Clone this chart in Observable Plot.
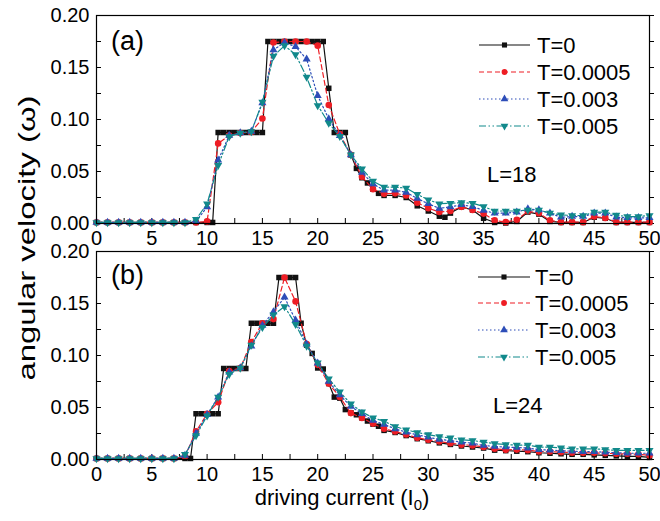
<!DOCTYPE html>
<html><head><meta charset="utf-8">
<script src="https://cdn.jsdelivr.net/npm/d3@7"></script>
<script src="https://cdn.jsdelivr.net/npm/@observablehq/plot@0.6"></script>
<style>
body{margin:0;background:#fff}
#wrap{position:relative;width:660px;height:521px;overflow:hidden;background:#fff}
#wrap svg{position:absolute;left:0}
</style>
</head><body><div id="wrap"></div>
<script>
// ---------- data ----------
const series = ["T=0", "T=0.0005", "T=0.003", "T=0.005"];
const xLabels = [0, 5, 10, 15, 20, 25, 30, 35, 40, 45, 50];
const xMinor = [0, 2.5, 5, 7.5, 10, 12.5, 15, 17.5, 20, 22.5, 25, 27.5, 30, 32.5, 35, 37.5, 40, 42.5, 45, 47.5, 50];
const yLabels = [0, 0.05, 0.10, 0.15, 0.20];
const yMinor = [0, 0.025, 0.05, 0.075, 0.10, 0.125, 0.15, 0.175, 0.20];
const xInt = d3.range(0, 51);

// panel (a), L=18
const xA0 = [0,1,2,3,4,5,6,7,8,9,10,10.5,11,11.5,12,12.5,13,13.5,14,14.5,15,15.5,16,16.5,17,17.5,18,18.5,19,19.5,20,20.5,21,21.5,22,22.5,23,23.5,24,24.5,25,25.5,26,27,28,29,30,31,31.5,32,33,34,35,36,37,38,39,40,41,42,43,44,45,46,47,48,49,50];
const yA0 = [0.001,0.001,0.001,0.001,0.001,0.001,0.001,0.001,0.001,0.001,0.001,
  0.001,0.0875,0.0875,0.0875,0.0875,0.0875,0.0875,0.0875,0.0875,0.0875,
  0.175,0.175,0.175,0.175,0.175,0.175,0.175,0.175,0.175,0.175,0.175,
  0.13,0.0875,0.0875,0.0875,0.066,0.053,0.044,0.039,0.033,0.029,0.027,
  0.027,0.025,0.017,0.012,0.007,0.006,0.010,0.016,0.013,0.005,0.001,0.0005,0.002,0.011,0.009,0.002,0.001,0.001,0.001,0.006,0.005,0.001,0.001,0.001,0.001];
const yA1 = [0.001,0.001,0.001,0.001,0.001,0.001,0.001,0.001,0.001,0.001,
  0.002,0.077,0.0846,0.087,0.088,0.101,0.174,0.175,0.175,0.175,0.171,0.114,0.086,0.066,0.045,0.033,0.0285,0.029,0.027,0.020,
  0.0147,0.011,0.012,0.016,0.013,0.0095,0.003,0.0013,0.0035,0.0118,0.0099,0.003,0.0013,0.0013,0.0013,0.0067,0.0054,0.0013,0.0013,0.0013,0.0013];
const yA2 = [0.001,0.001,0.001,0.001,0.001,0.001,0.001,0.001,0.001,0.002,
  0.016,0.061,0.0846,0.087,0.0885,0.116,0.167,0.174,0.170,0.158,0.123,0.1006,0.0845,0.066,0.049,0.038,0.032,0.032,0.030,0.024,
  0.019,0.0145,0.016,0.018,0.0163,0.0125,0.0099,0.0099,0.011,0.014,0.013,0.0099,0.006,0.0067,0.0067,0.0099,0.0099,0.006,0.0055,0.0055,0.0055];
const yA3 = [0.001,0.001,0.001,0.001,0.001,0.001,0.001,0.001,0.001,0.004,
  0.019,0.056,0.0836,0.087,0.0885,0.1167,0.161,0.171,0.1625,0.1407,0.1135,0.0965,0.0837,0.066,0.0526,0.0407,0.035,0.035,0.034,0.028,
  0.0228,0.019,0.0195,0.020,0.0195,0.0163,0.012,0.012,0.012,0.013,0.013,0.0099,0.0083,0.0077,0.0077,0.011,0.011,0.008,0.0067,0.0067,0.0077];

// panel (b), L=24
const xB0 = [0,1,2,3,4,5,6,7,8,8.5,9,9.5,10,10.5,11,11.5,12,12.5,13,13.5,14,14.5,15,15.5,16,16.5,17,17.5,18,18.5,19,19.5,20,20.5,21,21.5,22,22.5,23,23.5,24,24.5,25,25.5,26,27,28,29,30,31,32,33,34,35,36,37,38,39,40,41,42,43,44,45,46,47,48,49,50];
const yB0 = [0.001,0.001,0.001,0.001,0.001,0.001,0.001,0.001,0.001,
  0.001,0.044,0.044,0.044,0.044,0.044,0.0875,0.0875,0.0875,0.0875,0.0875,0.131,0.131,0.131,0.131,0.131,0.175,0.175,0.175,0.175,
  0.131,0.11,0.102,0.088,0.087,0.073,0.06,0.059,0.048,0.045,0.043,0.040,0.037,0.034,0.032,0.028,
  0.026,0.023,0.020,0.018,0.016,0.0145,0.013,0.012,0.011,0.009,0.0085,0.008,0.0075,0.0065,0.006,0.0055,0.005,0.005,0.0045,0.004,0.0035,0.003,0.003,0.002];
const yB1 = [0.001,0.001,0.001,0.001,0.001,0.001,0.001,0.001,0.003,0.027,
  0.044,0.055,0.085,0.088,0.113,0.131,0.135,0.175,0.152,0.111,0.091,0.073,0.060,0.0446,0.040,0.0345,0.0295,0.027,0.024,0.0208,
  0.019,0.0173,0.0157,0.0143,0.0135,0.012,0.0103,0.0093,0.0095,0.009,0.0077,0.0077,0.007,0.0066,0.0064,0.0064,0.006,0.0055,0.0055,0.005,0.0039];
const yB2 = [0.001,0.001,0.001,0.001,0.001,0.001,0.001,0.001,0.004,0.025,
  0.043,0.06,0.084,0.088,0.109,0.129,0.142,0.156,0.134,0.111,0.0926,0.075,0.062,0.051,0.044,0.0375,0.0337,0.0295,0.0263,0.0237,
  0.0215,0.0192,0.0183,0.0167,0.0157,0.0135,0.0125,0.012,0.0115,0.011,0.0095,0.009,0.0085,0.008,0.0075,0.0075,0.007,0.0065,0.006,0.006,0.006];
const yB3 = [0.001,0.001,0.001,0.001,0.001,0.001,0.001,0.001,0.005,0.023,
  0.042,0.06,0.082,0.088,0.110,0.127,0.139,0.147,0.130,0.109,0.093,0.0776,0.065,0.0535,0.0458,0.040,0.0368,0.0317,0.0285,0.026,
  0.024,0.022,0.0208,0.019,0.0183,0.0167,0.0152,0.0144,0.0138,0.0138,0.0119,0.0119,0.0112,0.0103,0.0103,0.0103,0.0096,0.0087,0.0087,0.0087,0.0087];

// ---------- styles ----------
const FONT = "'Liberation Sans', Arial, Helvetica, sans-serif";
const colors = ["#111111", "#ee1d24", "#2d4db8", "#11898b"];
const dashes = ["none", "5,3", "1.5,2.5", "7,2.5,1.5,2.5,1.5,2.5"];
const sqrt3 = Math.sqrt(3);
const triDown = {
  draw(ctx, size) {
    const y = -Math.sqrt(size / (sqrt3 * 3));
    ctx.moveTo(0, -y * 2);
    ctx.lineTo(-sqrt3 * y, y);
    ctx.lineTo(sqrt3 * y, y);
    ctx.closePath();
  }
};
const symbols = ["square", "circle", "triangle", triDown];
const d3syms = [d3.symbolSquare, d3.symbolCircle, d3.symbolTriangle, triDown];
const radii = [3.1, 3.3, 3.0, 3.0];

function panel({height, marginTop, marginBottom, xs, ys}) {
  const marks = [
    Plot.axisX(xLabels, {tickSize: 0, tickPadding: 7, fontSize: 20, tickFormat: d => String(d), label: null}),
    Plot.axisX(xMinor, {tickSize: 5, dy: -5, fill: "none", label: null}),
    Plot.axisY(yLabels, {tickSize: 0, tickPadding: 7, fontSize: 20, tickFormat: d3.format(".2f"), label: null}),
    Plot.axisY(yMinor, {tickSize: 5, dx: 5, fill: "none", label: null}),
    Plot.axisY(yMinor, {anchor: "right", tickSize: 4, fill: "none", label: null})
  ];
  series.forEach((s, i) => {
    const data = xs[i].map((x, j) => ({x, y: ys[i][j]}));
    marks.push(Plot.line(data, {x: "x", y: "y", stroke: colors[i], strokeWidth: 1.2, strokeDasharray: dashes[i]}));
    marks.push(Plot.dot(data, {x: "x", y: "y", symbol: symbols[i], r: radii[i], fill: colors[i], stroke: "none"}));
  });
  marks.push(Plot.frame({stroke: "#000", strokeWidth: 1.2}));
  return Plot.plot({
    width: 660, height, marginTop, marginBottom, marginLeft: 96, marginRight: 11,
    x: {domain: [0, 50]},
    y: {domain: [0, 0.2]},
    style: {fontFamily: FONT, color: "#000", background: "transparent", overflow: "visible"},
    marks
  });
}

function legend(svg, rowsY, x0, x1, tx, fs) {
  const g = d3.select(svg).append("g").attr("font-family", FONT).attr("text-anchor", "start");
  series.forEach((s, i) => {
    const y = rowsY[i];
    const xm = (x0 + x1) / 2;
    g.append("line").attr("x1", x0).attr("x2", x1).attr("y1", y).attr("y2", y)
      .attr("stroke", colors[i]).attr("stroke-width", 1.2).attr("stroke-dasharray", dashes[i]);
    g.append("path").attr("transform", `translate(${xm},${y})`)
      .attr("d", d3.symbol(d3syms[i], 26)()).attr("fill", colors[i]);
    g.append("text").attr("x", tx).attr("y", y).attr("dy", "0.36em")
      .attr("font-size", fs).attr("fill", "#000").text(s);
  });
}

function label(svg, text, x, y, fs) {
  d3.select(svg).append("text").attr("x", x).attr("y", y).attr("dy", "0.36em")
    .attr("text-anchor", "start")
    .attr("font-family", FONT).attr("font-size", fs).attr("fill", "#000").text(text);
}

const wrap = document.getElementById("wrap");

const svgA = panel({height: 245, marginTop: 15, marginBottom: 22, xs: [xA0, xInt, xInt, xInt], ys: [yA0, yA1, yA2, yA3]});
svgA.style.top = "0px";
wrap.appendChild(svgA);
legend(svgA, [45, 72, 99, 126], 479, 530, 537, 22);
label(svgA, "(a)", 111, 40, 27);
label(svgA, "L=18", 487, 174, 22);

const svgB = panel({height: 276, marginTop: 6, marginBottom: 62, xs: [xB0, xInt, xInt, xInt], ys: [yB0, yB1, yB2, yB3]});
svgB.style.top = "245px";
wrap.appendChild(svgB);
legend(svgB, [32, 58, 85, 112], 478, 530, 535, 22);
label(svgB, "(b)", 111, 29, 27);
label(svgB, "L=24", 493, 160, 22);

// x title with subscript
const xt = d3.select(svgB).append("text").attr("x", 342).attr("y", 252).attr("dy", "0.36em")
  .attr("text-anchor", "middle").attr("font-family", FONT).attr("font-size", 22).attr("fill", "#000");
xt.append("tspan").text("driving current (I");
xt.append("tspan").attr("font-size", 15).attr("dy", "0.35em").text("0");
xt.append("tspan").attr("dy", "-0.25em").text(")");

// y title spanning both panels
const ov = d3.select(wrap).append("svg").attr("width", 660).attr("height", 521)
  .style("top", "0px").style("pointer-events", "none");
ov.append("text").attr("transform", "translate(26,238) rotate(-90)").attr("dy", "0.36em")
  .attr("text-anchor", "middle").attr("font-family", FONT).attr("font-size", 24).attr("fill", "#000")
  .attr("textLength", 285).attr("lengthAdjust", "spacingAndGlyphs")
  .text("angular velocity (ω)");
</script></body></html>
